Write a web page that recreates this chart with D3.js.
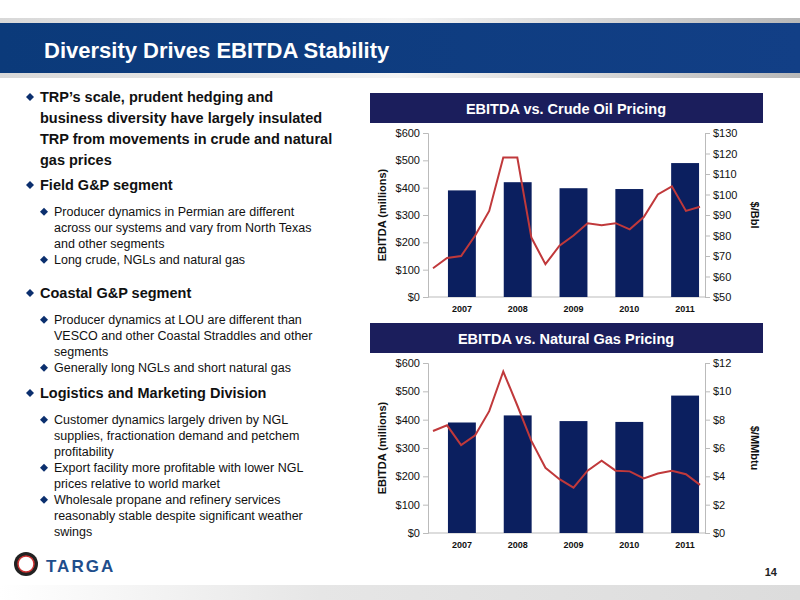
<!DOCTYPE html>
<html><head><meta charset="utf-8">
<script src="https://cdn.jsdelivr.net/npm/d3@7"></script>
<style>body{margin:0;background:#fff}svg{display:block;font-family:Arial,"Liberation Sans",sans-serif}</style>
</head><body><svg id="c" width="800" height="600"></svg>
<script>
const years = ["2007","2008","2009","2010","2011"];
const ebitdaOil = [390, 420, 398, 395, 490];
const ebitdaGas = [390, 415, 395, 392, 485];
const crudeQ = [64,69,70,80,92,118,118,79,66,75,80,86,85,86,83,89,100,104,92,94];
const gasQ = [7.2,7.6,6.2,6.9,8.6,11.4,9.0,6.5,4.6,3.8,3.2,4.4,5.1,4.4,4.35,3.85,4.2,4.4,4.15,3.4];
const leftTicks = [0,100,200,300,400,500,600];
const oilTicks = [50,60,70,80,90,100,110,120,130];
const gasTicks = [0,2,4,6,8,10,12];

const svg = d3.select("#c");
const defs = svg.append("defs");
const g1 = defs.append("linearGradient").attr("id","ban").attr("x1",0).attr("x2",1);
g1.append("stop").attr("offset",0).attr("stop-color","#0b3a7a");
g1.append("stop").attr("offset",1).attr("stop-color","#123f86");
const g2 = defs.append("linearGradient").attr("id","sil").attr("x1",0).attr("x2",1);
g2.append("stop").attr("offset",0).attr("stop-color","#d8d8d8");
g2.append("stop").attr("offset",0.5).attr("stop-color","#f4f4f4");
g2.append("stop").attr("offset",1).attr("stop-color","#b8b8b8");
const g3 = defs.append("linearGradient").attr("id","foot").attr("x1",0).attr("x2",1);
g3.append("stop").attr("offset",0).attr("stop-color","#fff");
g3.append("stop").attr("offset",0.4).attr("stop-color","#e6e6e6");
g3.append("stop").attr("offset",1).attr("stop-color","#dcdcdc");

svg.append("rect").attr("x",0).attr("y",18).attr("width",800).attr("height",5).attr("fill","url(#sil)");
svg.append("rect").attr("x",0).attr("y",23).attr("width",800).attr("height",50).attr("fill","url(#ban)");
svg.append("rect").attr("x",0).attr("y",73).attr("width",800).attr("height",5).attr("fill","url(#sil)");
svg.append("text").attr("x",44).attr("y",58).attr("fill","#fff").attr("font-size",22).attr("font-weight","bold").text("Diversity Drives EBITDA Stability");

const bullets = [
 [0,102,["TRP’s scale, prudent hedging and","business diversity have largely insulated","TRP from movements in crude and natural","gas prices"]],
 [0,190,["Field G&P segment"]],
 [1,216,["Producer dynamics in Permian are different","across our systems and vary from North Texas","and other segments"]],
 [1,264,["Long crude, NGLs and natural gas"]],
 [0,298,["Coastal G&P segment"]],
 [1,324,["Producer dynamics at LOU are different than","VESCO and other Coastal Straddles and other","segments"]],
 [1,372,["Generally long NGLs and short natural gas"]],
 [0,398,["Logistics and Marketing Division"]],
 [1,424,["Customer dynamics largely driven by NGL","supplies, fractionation demand and petchem","profitability"]],
 [1,472,["Export facility more profitable with lower NGL","prices relative to world market"]],
 [1,504,["Wholesale propane and refinery services","reasonably stable despite significant weather","swings"]]
];
bullets.forEach(([lvl,y,lines])=>{
  const x = lvl? 44 : 30, fs = lvl?12.5:14.5, lh = lvl?16:21;
  svg.append("path").attr("d",`M${x-4},${y-fs*0.35} l4,-4 l4,4 l-4,4z`).attr("fill","#0b2f6e");
  const t = svg.append("text").attr("font-size",fs).attr("font-weight",lvl?"normal":"bold").attr("fill","#111");
  lines.forEach((l,i)=>t.append("tspan").attr("x",x+10).attr("y",y+i*lh).text(l));
});

function chart(top, title, bars, line, rTicks, rDomain, rFmt, rTitle, y0, y1) {
  svg.append("rect").attr("x",370).attr("y",top).attr("width",393).attr("height",30).attr("fill","#1b1e5c");
  svg.append("text").attr("x",566).attr("y",top+21).attr("text-anchor","middle").attr("fill","#fff").attr("font-size",14.5).attr("font-weight","bold").text(title);
  const yL = d3.scaleLinear().domain([0,600]).range([y1,y0]);
  const yR = d3.scaleLinear().domain(rDomain).range([y1,y0]);
  const xb = d3.scaleBand().domain(years).range([434,713]).paddingInner(0.5).paddingOuter(0.25);
  const xq = d3.scaleLinear().domain([0,line.length-1]).range([433,700]);
  const ax = svg.append("g").attr("transform","translate(428,0)").call(d3.axisLeft(yL).tickValues(leftTicks).tickFormat(d=>"$"+d).tickSize(5));
  const ar = svg.append("g").attr("transform","translate(705,0)").call(d3.axisRight(yR).tickValues(rTicks).tickFormat(rFmt).tickSize(5));
  [ax,ar].forEach(a=>{a.selectAll("path,line").attr("stroke","#bbb");a.selectAll("text").attr("font-size",11).attr("fill","#111").attr("font-family","Arial,Liberation Sans")});
  svg.append("line").attr("x1",428).attr("x2",705).attr("y1",y1).attr("y2",y1).attr("stroke","#bbb");
  svg.selectAll(null).data(bars).join("rect").attr("x",(d,i)=>xb(years[i])).attr("width",xb.bandwidth())
    .attr("y",d=>yL(d)).attr("height",d=>yL(0)-yL(d)).attr("fill","#0b1f5f");
  svg.append("path").datum(line).attr("fill","none").attr("stroke","#c0393b").attr("stroke-width",2)
    .attr("d",d3.line().x((d,i)=>xq(i)).y(d=>yR(d)));
  years.forEach((yr,i)=>svg.append("text").attr("x",xb(yr)+xb.bandwidth()/2).attr("y",y1+15).attr("text-anchor","middle").attr("font-size",9).attr("font-weight","bold").attr("fill","#111").text(yr));
  svg.append("text").attr("transform",`translate(386,${(y0+y1)/2}) rotate(-90)`).attr("text-anchor","middle").attr("font-size",11).attr("font-weight","bold").attr("fill","#111").text("EBITDA (millions)");
  svg.append("text").attr("transform",`translate(751,${(y0+y1)/2}) rotate(90)`).attr("text-anchor","middle").attr("font-size",11).attr("font-weight","bold").attr("fill","#111").text(rTitle);
}
chart(93,"EBITDA vs. Crude Oil Pricing",ebitdaOil,crudeQ,oilTicks,[50,130],d=>"$"+d,"$/Bbl",133,297);
chart(323,"EBITDA vs. Natural Gas Pricing",ebitdaGas,gasQ,gasTicks,[0,12],d=>"$"+d,"$/MMbtu",363,533);

const lg = svg.append("g").attr("transform","translate(14,552)");
lg.append("circle").attr("cx",12).attr("cy",12).attr("r",12).attr("fill","#222");
lg.append("circle").attr("cx",12).attr("cy",12).attr("r",8).attr("fill","#fff").attr("stroke","#c33").attr("stroke-width",1.5);
lg.append("text").attr("x",32).attr("y",20).attr("font-size",17).attr("font-weight","bold").attr("fill","#1f4e8c").attr("letter-spacing",2).text("TARGA");
svg.append("text").attr("x",777).attr("y",576).attr("text-anchor","end").attr("font-size",11).attr("font-weight","bold").attr("fill","#222").text("14");
svg.append("rect").attr("x",0).attr("y",585).attr("width",800).attr("height",15).attr("fill","url(#foot)");
</script></body></html>
